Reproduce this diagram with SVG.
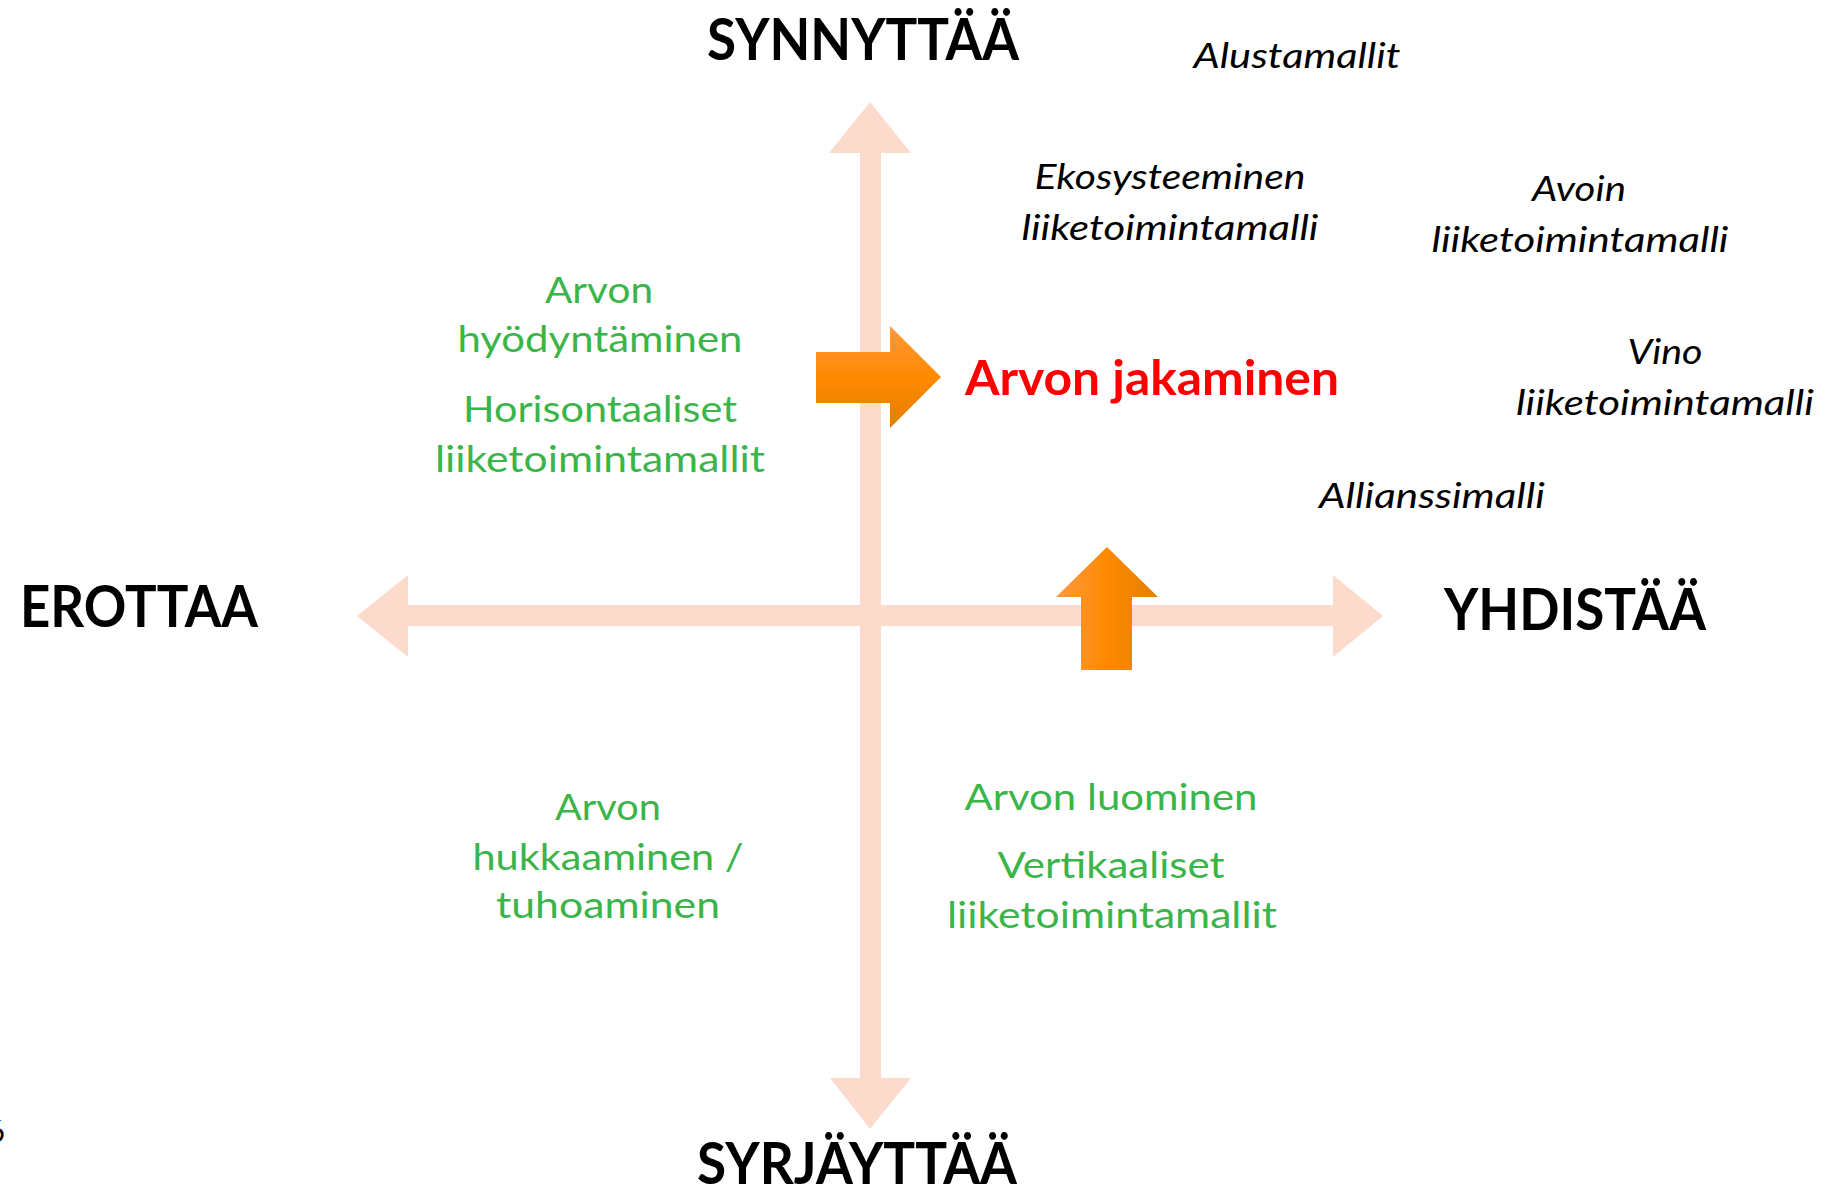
<svg xmlns="http://www.w3.org/2000/svg" width="1836" height="1190" viewBox="0 0 1836 1190">
  <style>
    text { font-family: Lato, "Open Sans", "Liberation Sans", sans-serif; text-anchor: middle; }
    .axis { fill: #FDDBCC; }
    .big { font-weight: bold; font-size: 57px; fill: #000; }
    .ital { font-style: italic; font-size: 34px; fill: #000; }
    .green { font-size: 37px; fill: #3BB54A; }
    .red { font-weight: bold; font-size: 47px; fill: #FF0000; }
  </style>
  <defs>
    <linearGradient id="gV" x1="0" y1="0" x2="0" y2="1">
      <stop offset="0" stop-color="#FF9A3C"/>
      <stop offset="0.5" stop-color="#FF8A00"/>
      <stop offset="1" stop-color="#E47E00"/>
    </linearGradient>
    <linearGradient id="gH" x1="0" y1="0" x2="1" y2="0">
      <stop offset="0" stop-color="#FF9A40"/>
      <stop offset="0.5" stop-color="#FF8A00"/>
      <stop offset="1" stop-color="#E47E00"/>
    </linearGradient>
  </defs>
  <rect width="1836" height="1190" fill="#FFFFFF"/>

  <g id="connectors">
    <polygon class="axis" points="870,102 911,153 881,153 881,1078 911,1078 870,1129 830,1078 860,1078 860,153 829,153"/>
    <polygon class="axis" points="357,616 408,575 408,605 1333,605 1333,575 1383,616 1333,657 1333,626 408,626 408,657"/>
    <polygon fill="url(#gV)" points="816,352 890,352 890,326 941,377 890,428 890,403 816,403"/>
    <polygon fill="url(#gH)" points="1107,547 1158,597 1132,597 1132,670 1081,670 1081,597 1056,597"/>
  </g>

  <g id="synnyttaa"><text class="big" x="863" y="60" textLength="312" lengthAdjust="spacingAndGlyphs">SYNNYTTÄÄ</text></g>
  <g id="syrjayttaa"><text class="big" x="857" y="1184" textLength="320" lengthAdjust="spacingAndGlyphs">SYRJÄYTTÄÄ</text></g>
  <g id="erottaa"><text class="big" x="139" y="627" textLength="238" lengthAdjust="spacingAndGlyphs">EROTTAA</text></g>
  <g id="yhdistaa"><text class="big" x="1575" y="630" textLength="262" lengthAdjust="spacingAndGlyphs">YHDISTÄÄ</text></g>

  <g id="alustamallit"><text class="ital" x="1297" y="68" textLength="207" lengthAdjust="spacingAndGlyphs">Alustamallit</text></g>
  <g id="ekosysteeminen">
    <text class="ital" x="1170" y="189" textLength="271" lengthAdjust="spacingAndGlyphs">Ekosysteeminen</text>
    <text class="ital" x="1170" y="240" textLength="297" lengthAdjust="spacingAndGlyphs">liiketoimintamalli</text>
  </g>
  <g id="avoin">
    <text class="ital" x="1579" y="201" textLength="94" lengthAdjust="spacingAndGlyphs">Avoin</text>
    <text class="ital" x="1580" y="252" textLength="297" lengthAdjust="spacingAndGlyphs">liiketoimintamalli</text>
  </g>
  <g id="vino">
    <text class="ital" x="1665" y="364" textLength="75" lengthAdjust="spacingAndGlyphs">Vino</text>
    <text class="ital" x="1665" y="415" textLength="298" lengthAdjust="spacingAndGlyphs">liiketoimintamalli</text>
  </g>
  <g id="allianssimalli"><text class="ital" x="1432" y="508" textLength="226" lengthAdjust="spacingAndGlyphs">Allianssimalli</text></g>

  <g id="arvon-jakaminen"><text class="red" x="1152" y="395" textLength="374" lengthAdjust="spacingAndGlyphs">Arvon jakaminen</text></g>

  <g id="arvon-hyodyntaminen">
    <text class="green" x="599" y="303" textLength="108" lengthAdjust="spacingAndGlyphs">Arvon</text>
    <text class="green" x="600" y="352" textLength="285" lengthAdjust="spacingAndGlyphs">hyödyntäminen</text>
    <text class="green" x="600" y="422" textLength="274" lengthAdjust="spacingAndGlyphs">Horisontaaliset</text>
    <text class="green" x="600" y="472" textLength="330" lengthAdjust="spacingAndGlyphs">liiketoimintamallit</text>
  </g>
  <g id="arvon-hukkaaminen">
    <text class="green" x="608" y="820" textLength="106" lengthAdjust="spacingAndGlyphs">Arvon</text>
    <text class="green" x="608" y="870" textLength="271" lengthAdjust="spacingAndGlyphs">hukkaaminen /</text>
    <text class="green" x="608" y="918" textLength="224" lengthAdjust="spacingAndGlyphs">tuhoaminen</text>
  </g>
  <g id="arvon-luominen">
    <text class="green" x="1111" y="810" textLength="293" lengthAdjust="spacingAndGlyphs">Arvon luominen</text>
    <text class="green" x="1111" y="878" textLength="227" lengthAdjust="spacingAndGlyphs">Vertikaaliset</text>
    <text class="green" x="1112" y="928" textLength="330" lengthAdjust="spacingAndGlyphs">liiketoimintamallit</text>
  </g>

  <g id="page-number"><text x="5" y="1142" style="text-anchor:end;font-size:30px;fill:#000">6</text></g>
</svg>
